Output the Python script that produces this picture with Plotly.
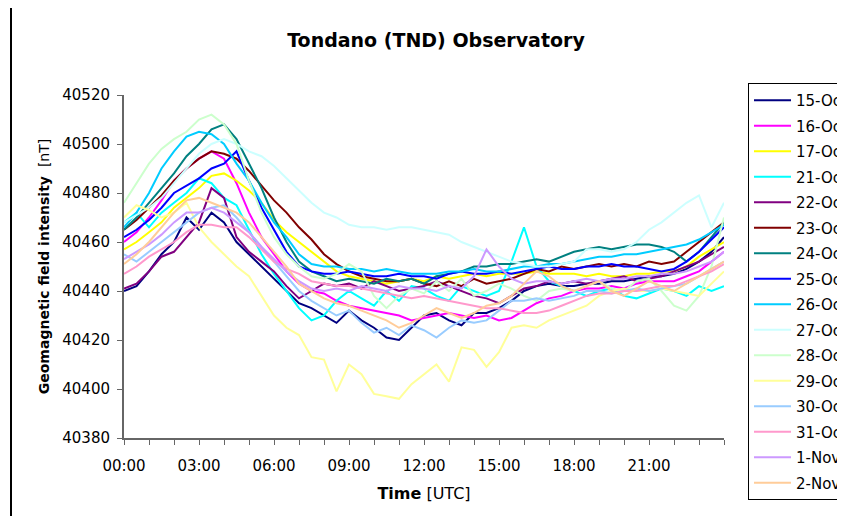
import plotly.graph_objects as go

hours = [i * 0.5 for i in range(49)]

oct15 = [40440,40442,40448,40455,40460,40470,40465,40472,40468,40460,40455,40450,40445,40440,40435,40433,40430,40427,40432,40428,40425,40421,40420,40425,40430,40431,40428,40426,40431,40431,40433,40436,40440,40442,40443,40442,40442,40443,40443,40444,40444,40445,40446,40446,40447,40449,40452,40456,40462]
oct16 = [40460,40464,40470,40477,40485,40490,40494,40497,40494,40484,40472,40462,40455,40448,40443,40440,40439,40436,40434,40433,40432,40431,40430,40428,40429,40430,40431,40430,40429,40430,40428,40429,40432,40435,40437,40438,40440,40441,40441,40442,40441,40443,40444,40444,40444,40446,40448,40452,40456]
oct17 = [40457,40460,40464,40468,40474,40478,40482,40487,40488,40485,40481,40476,40469,40464,40460,40456,40452,40448,40446,40445,40444,40443,40444,40445,40444,40446,40445,40446,40447,40446,40447,40447,40447,40448,40447,40447,40447,40446,40447,40446,40446,40447,40447,40448,40448,40450,40454,40457,40460]
oct21 = [40468,40472,40466,40472,40476,40480,40486,40484,40478,40475,40465,40455,40447,40440,40433,40428,40430,40436,40440,40437,40434,40440,40436,40442,40441,40438,40436,40442,40440,40438,40440,40452,40466,40450,40444,40442,40440,40438,40440,40441,40438,40437,40439,40441,40440,40438,40442,40440,40442]
oct22 = [40441,40443,40448,40454,40456,40462,40468,40482,40478,40462,40456,40452,40448,40442,40437,40440,40443,40442,40443,40441,40444,40442,40440,40441,40442,40444,40442,40440,40438,40437,40435,40438,40441,40442,40444,40443,40444,40443,40444,40445,40446,40444,40445,40446,40448,40450,40452,40455,40458]
oct23 = [40465,40469,40474,40479,40485,40490,40494,40497,40496,40494,40489,40483,40477,40472,40466,40461,40455,40451,40448,40446,40445,40444,40444,40445,40443,40442,40444,40442,40445,40443,40444,40445,40447,40449,40448,40450,40449,40450,40451,40450,40451,40450,40452,40451,40452,40456,40460,40464,40468]
oct24 = [40465,40470,40476,40482,40488,40495,40500,40506,40508,40502,40492,40482,40470,40460,40452,40448,40446,40444,40445,40444,40443,40445,40444,40445,40443,40446,40447,40448,40450,40450,40451,40451,40452,40453,40452,40454,40456,40457,40458,40457,40458,40459,40459,40458,40456,40452,40456,40462,40468]
oct25 = [40462,40465,40469,40474,40480,40483,40486,40490,40492,40497,40485,40474,40465,40456,40450,40448,40447,40447,40448,40447,40446,40446,40447,40446,40446,40445,40447,40448,40447,40447,40448,40447,40448,40449,40450,40449,40449,40450,40450,40451,40450,40450,40449,40448,40449,40452,40456,40461,40466]
oct26 = [40466,40472,40480,40490,40497,40503,40505,40504,40500,40492,40485,40476,40468,40462,40455,40451,40450,40450,40449,40449,40448,40449,40448,40447,40447,40447,40448,40448,40449,40448,40448,40449,40450,40450,40451,40451,40452,40453,40454,40454,40455,40455,40456,40457,40458,40459,40461,40464,40467]
oct27 = [40468,40471,40474,40478,40484,40490,40496,40500,40502,40500,40497,40495,40491,40486,40481,40476,40472,40470,40467,40466,40466,40465,40466,40466,40465,40464,40463,40460,40458,40456,40454,40452,40451,40450,40450,40451,40452,40457,40457,40456,40457,40460,40465,40468,40472,40476,40479,40466,40476]
oct28 = [40476,40484,40492,40498,40502,40505,40510,40512,40508,40500,40485,40472,40462,40455,40450,40446,40445,40447,40451,40448,40438,40433,40438,40441,40439,40444,40440,40445,40438,40440,40443,40441,40438,40436,40440,40441,40440,40442,40444,40441,40440,40444,40445,40440,40434,40432,40438,40450,40470]
oct29 = [40470,40475,40473,40470,40472,40476,40466,40460,40455,40450,40446,40438,40430,40425,40422,40413,40412,40399,40410,40406,40398,40397,40396,40402,40406,40410,40403,40417,40416,40409,40415,40425,40426,40425,40428,40430,40432,40434,40438,40440,40441,40440,40440,40441,40440,40439,40438,40443,40448]
oct30 = [40455,40452,40456,40460,40464,40468,40472,40474,40475,40470,40464,40458,40452,40446,40440,40436,40433,40430,40432,40427,40423,40425,40422,40426,40424,40421,40425,40428,40427,40428,40432,40436,40436,40437,40436,40437,40438,40440,40440,40439,40440,40441,40440,40441,40442,40443,40446,40449,40452]
oct31 = [40447,40450,40454,40457,40460,40464,40467,40467,40466,40466,40462,40457,40452,40449,40447,40444,40443,40442,40442,40441,40440,40439,40438,40437,40438,40437,40436,40435,40434,40433,40433,40432,40431,40431,40432,40434,40436,40438,40439,40439,40440,40440,40441,40442,40442,40444,40446,40448,40451]
nov1 = [40453,40456,40459,40463,40468,40472,40472,40474,40472,40468,40464,40458,40453,40448,40444,40441,40440,40441,40440,40442,40441,40440,40442,40441,40441,40440,40442,40441,40446,40457,40450,40445,40443,40444,40444,40443,40444,40445,40444,40445,40445,40446,40446,40447,40447,40448,40450,40452,40456]
nov2 = [40451,40455,40460,40466,40472,40477,40478,40476,40474,40472,40468,40462,40456,40450,40443,40440,40437,40435,40434,40432,40430,40428,40425,40427,40430,40433,40431,40429,40431,40434,40435,40438,40443,40448,40446,40442,40440,40442,40444,40440,40438,40441,40444,40442,40440,40443,40446,40449,40452]

series_names = ["15-Oct","16-Oct","17-Oct","21-Oct","22-Oct","23-Oct","24-Oct","25-Oct",
                "26-Oct","27-Oct","28-Oct","29-Oct","30-Oct","31-Oct","1-Nov","2-Nov"]
series_values = [oct15,oct16,oct17,oct21,oct22,oct23,oct24,oct25,
                 oct26,oct27,oct28,oct29,oct30,oct31,nov1,nov2]
series_colors = ["#000080","#FF00FF","#FFFF00","#00FFFF","#800080","#800000","#008080","#0000FF",
                 "#00CCFF","#CCFFFF","#CCFFCC","#FFFF99","#99CCFF","#FF99CC","#CC99FF","#FFCC99"]

tick_hours = [0,3,6,9,12,15,18,21]
tick_labels = ["00:00","03:00","06:00","09:00","12:00","15:00","18:00","21:00"]
y_ticks = [40380,40400,40420,40440,40460,40480,40500,40520]

fig = go.Figure()
for name, vals, col in zip(series_names, series_values, series_colors):
    fig.add_trace(go.Scatter(x=hours, y=vals, mode="lines", name=name, legendgroup=name,
                             line=dict(color=col, width=2)))

FONT_H = "DejaVu Sans"
W, H = 900, 508  # page body has an 8px margin; the window crops the right side like the reference
fig.update_layout(
    width=W, height=H,
    margin=dict(l=116, r=W - 716, t=87, b=78, autoexpand=False),
    paper_bgcolor="white", plot_bgcolor="white",
    showlegend=True,
    title=dict(text="<b>Tondano (TND) Observatory</b>", x=(436 - 8) / W, xanchor="center",
               y=1 - (40 - 8) / H, yanchor="middle", font=dict(family=FONT_H, size=19, color="black")),
    legend=dict(x=(748 - 124) / 600, y=(438 - 83) / 343, xanchor="left", yanchor="top",
                bordercolor="black", borderwidth=1, bgcolor="white",
                font=dict(family=FONT_H, size=15, color="black"),
                traceorder="grouped", tracegroupgap=3, itemwidth=37, maxheight=480),
    xaxis=dict(range=[0, 24], tickmode="array", tickvals=tick_hours, ticktext=tick_labels,
               ticks="outside", ticklen=5, tickcolor="#666", showline=True, linecolor="#666", linewidth=2,
               showgrid=False, zeroline=False, ticklabelstandoff=8,
               minor=dict(tickmode="linear", tick0=0, dtick=1, ticks="outside", ticklen=5,
                          tickcolor="#666", showgrid=False),
               tickfont=dict(family=FONT_H, size=15, color="black"),
               title=dict(text="<b>Time</b> [UTC]", font=dict(family=FONT_H, size=16, color="black"),
                          standoff=14)),
    yaxis=dict(range=[40380, 40520], tickmode="array", tickvals=y_ticks,
               ticktext=[str(v) for v in y_ticks], ticks="outside", ticklen=5, tickcolor="#666",
               showline=True, linecolor="#666", linewidth=2, showgrid=False, zeroline=False,
               ticklabelstandoff=4,
               tickfont=dict(family=FONT_H, size=15, color="black"),
               title=dict(text="<b>Geomagnetic field intensity</b>  [nT]",
                          font=dict(family=FONT_H, size=14, color="black"), standoff=9)),
)

fig.add_shape(type="line", xref="paper", yref="paper", x0=(11 - 124) / 600, x1=(11 - 124) / 600,
              y0=(438 - 520) / 343, y1=(438 + 4) / 343, line=dict(color="black", width=2))

fig.write_html("out.html", post_script="document.body.style.overflow='hidden';")
